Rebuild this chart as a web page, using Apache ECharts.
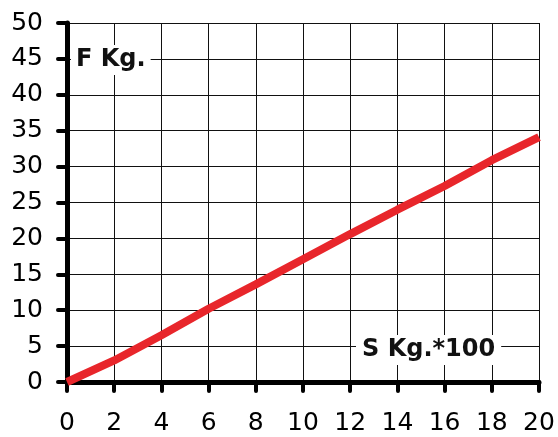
<!DOCTYPE html>
<html><head><meta charset="utf-8">
<script src="https://cdn.jsdelivr.net/npm/echarts@6/dist/echarts.min.js"></script>
<style>html,body{margin:0;padding:0;background:#fff}#c{width:558px;height:437px}</style>
</head><body><div id="c"></div>
<script>
var xValues = [0, 2, 4, 6, 8, 10, 12, 14, 16, 18, 20];
var fValues = [0, 3.0, 6.5, 10.2, 13.6, 17.1, 20.6, 24.0, 27.3, 30.9, 34.1];
var yLabel = 'F Kg.';
var xLabel = 'S Kg.*100';

var chart = echarts.init(document.getElementById('c'));
var font = 'DejaVu Sans';
chart.setOption({
  animation: false,
  backgroundColor: '#fff',
  grid: {left: 67, right: 19, top: 23, bottom: 55},
  xAxis: {
    type: 'value', min: 0, max: 20, interval: 2,
    axisLine: {show: true, lineStyle: {color: '#000', width: 5}},
    axisTick: {show: true, length: 9, lineStyle: {color: '#000', width: 4, cap: 'round'}},
    axisLabel: {color: '#000', fontSize: 25, fontFamily: font, margin: 29},
    splitLine: {show: true, lineStyle: {color: '#111', width: 1}}
  },
  yAxis: {
    type: 'value', min: 0, max: 50, interval: 5,
    axisLine: {show: true, lineStyle: {color: '#000', width: 5}},
    axisTick: {show: true, length: 9, lineStyle: {color: '#000', width: 4, cap: 'round'}},
    axisLabel: {color: '#000', fontSize: 25, fontFamily: font, margin: 24},
    splitLine: {show: true, lineStyle: {color: '#111', width: 1}}
  },
  graphic: [
    {type: 'text', left: 71, top: 45, z: 100,
     style: {text: yLabel, font: 'bold 24px "DejaVu Sans"', fill: '#111', backgroundColor: '#fff', padding: [3, 5, 3, 5]}},
    {type: 'text', left: 356, top: 335, z: 100,
     style: {text: xLabel, font: 'bold 24px "DejaVu Sans"', fill: '#111', backgroundColor: '#fff', padding: [3, 6, 3, 6]}}
  ],
  series: [{
    type: 'line',
    data: xValues.map(function (x, i) { return [x, fValues[i]]; }),
    showSymbol: false,
    lineStyle: {color: '#e8262b', width: 8},
    z: 5
  }]
});
</script></body></html>
